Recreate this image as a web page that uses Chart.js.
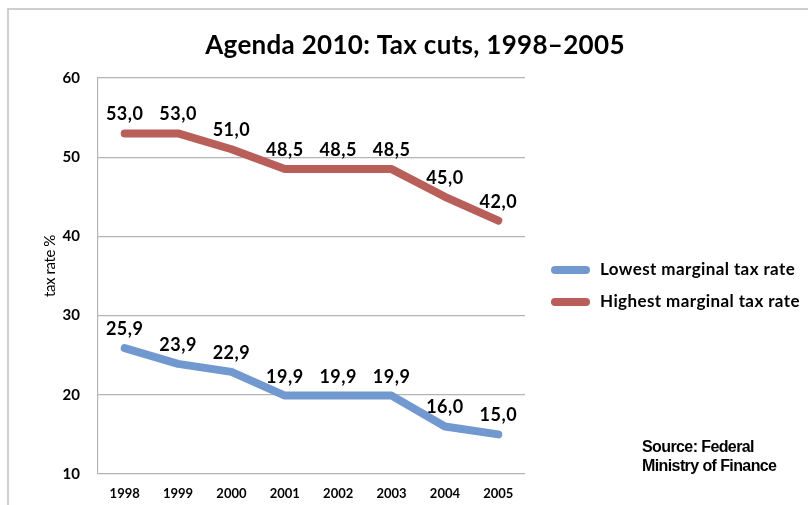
<!DOCTYPE html>
<html>
<head>
<meta charset="utf-8">
<script src="https://cdn.jsdelivr.net/npm/chart.js@4"></script>
<style>
html,body{margin:0;padding:0;background:#fff;overflow:hidden;}
#wrap{position:relative;width:808px;height:505px;}
#frame{position:absolute;left:7px;top:8px;width:900px;height:600px;border:2px solid #cfcfcf;box-sizing:border-box;}
canvas{position:absolute;left:0;top:0;}
</style>
</head>
<body>
<div id="wrap">
<div id="frame"></div>
<canvas id="c" width="808" height="505"></canvas>
</div>
<script>
const titleText = 'Agenda 2010: Tax cuts, 1998–2005';
const yAxisTitle = 'tax rate %';
const years = ['1998','1999','2000','2001','2002','2003','2004','2005'];
const lowestRate = [25.9, 23.9, 22.9, 19.9, 19.9, 19.9, 16.0, 15.0];
const highestRate = [53.0, 53.0, 51.0, 48.5, 48.5, 48.5, 45.0, 42.0];
const seriesNames = ['Lowest marginal tax rate', 'Highest marginal tax rate'];
const yTicks = [10, 20, 30, 40, 50, 60];
const sourceLines = ['Source: Federal', 'Ministry of Finance'];

const FONT = "Lato, 'Open Sans', sans-serif";
const BLUE = '#7199d0';
const RED = '#b95f59';

function spacing(ctx, v) { if ('letterSpacing' in ctx) ctx.letterSpacing = v; }

const overlay = {
  id: 'overlay',
  afterDatasetsDraw(chart) {
    const ctx = chart.ctx;
    ctx.save();
    // data labels
    ctx.fillStyle = '#000';
    ctx.font = 'bold 18px ' + FONT;
    spacing(ctx, '0.5px');
    ctx.textAlign = 'center';
    ctx.textBaseline = 'alphabetic';
    chart.data.datasets.forEach((ds, i) => {
      const meta = chart.getDatasetMeta(i);
      meta.data.forEach((pt, j) => {
        const v = ds.data[j].toFixed(1).replace('.', ',');
        ctx.fillText(v, pt.x, pt.y - 13);
      });
    });
    // title
    spacing(ctx, '0.3px');
    ctx.font = 'bold 26px ' + FONT;
    ctx.fillText(titleText, 415, 54);
    // y axis title
    spacing(ctx, '-0.4px');
    ctx.save();
    ctx.translate(50, 266);
    ctx.rotate(-Math.PI / 2);
    ctx.textBaseline = 'middle';
    ctx.font = '15px ' + FONT;
    ctx.fillText(yAxisTitle, 0, 0);
    ctx.restore();
    // legend
    ctx.textAlign = 'left';
    ctx.textBaseline = 'middle';
    ctx.font = 'bold 17px ' + FONT;
    spacing(ctx, '0.4px');
    chart.data.datasets.forEach((ds, i) => {
      const y = 270 + i * 32;
      ctx.strokeStyle = ds.borderColor;
      ctx.lineWidth = 8;
      ctx.lineCap = 'round';
      ctx.beginPath();
      ctx.moveTo(555, y);
      ctx.lineTo(586, y);
      ctx.stroke();
      ctx.fillStyle = '#000';
      ctx.fillText(ds.label, 600, y);
    });
    // source
    ctx.font = "bold 16px 'Liberation Sans', Arial, sans-serif";
    spacing(ctx, '-0.6px');
    ctx.textBaseline = 'alphabetic';
    ctx.fillText(sourceLines[0], 642, 452);
    ctx.fillText(sourceLines[1], 642, 471);
    ctx.restore();
  }
};

new Chart(document.getElementById('c'), {
  type: 'line',
  data: {
    labels: years,
    datasets: [
      { label: seriesNames[0], data: lowestRate, borderColor: BLUE, backgroundColor: BLUE,
        borderWidth: 8, pointRadius: 0, tension: 0, borderCapStyle: 'round', borderJoinStyle: 'round' },
      { label: seriesNames[1], data: highestRate, borderColor: RED, backgroundColor: RED,
        borderWidth: 8, pointRadius: 0, tension: 0, borderCapStyle: 'round', borderJoinStyle: 'round' }
    ]
  },
  options: {
    responsive: false,
    animation: false,
    devicePixelRatio: 1,
    layout: { padding: { left: 0, right: 283, top: 78, bottom: 0 } },
    plugins: { legend: { display: false }, title: { display: false }, tooltip: { enabled: false } },
    scales: {
      x: {
        offset: true,
        grid: { display: false, drawTicks: false },
        border: { display: false },
        ticks: { color: '#000', font: { family: FONT, size: 13, weight: 'bold' }, padding: 12, maxRotation: 0 },
        afterFit(s) { s.height = 31; }
      },
      y: {
        min: 10, max: 60,
        afterBuildTicks(s) { s.ticks = yTicks.map(v => ({ value: v })); },
        grid: { color: '#b4b4b4', lineWidth: 1.2, drawTicks: false },
        border: { display: true, color: '#b4b4b4', width: 1.2 },
        ticks: { color: '#000', font: { family: FONT, size: 15, weight: 'bold' }, padding: 18 },
        afterFit(s) { s.width = 98; }
      }
    }
  },
  plugins: [overlay]
});
</script>
</body>
</html>
